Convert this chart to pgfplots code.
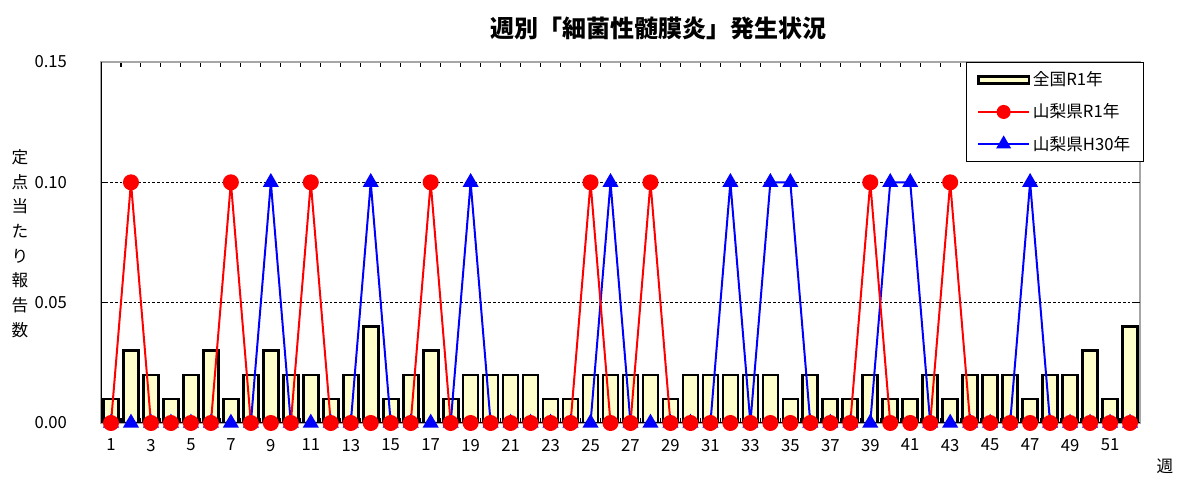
\documentclass[border=0pt]{standalone}
\usepackage{fontspec}
\setmainfont{Noto Sans CJK JP}
\usepackage{pgfplots}
\usepackage{pgfplotstable}
\pgfplotsset{compat=1.18}

\definecolor{barfill}{RGB}{255,255,204}

% week, national R1, Yamanashi R1, Yamanashi H30
\pgfplotstableread{
w  zen  r1   h30
1  0.01 0    0
2  0.03 0.1  0
3  0.02 0    0
4  0.01 0    0
5  0.02 0    0
6  0.03 0    0
7  0.01 0.1  0
8  0.02 0    0
9  0.03 0    0.1
10 0.02 0    0
11 0.02 0.1  0
12 0.01 0    0
13 0.02 0    0
14 0.04 0    0.1
15 0.01 0    0
16 0.02 0    0
17 0.03 0.1  0
18 0.01 0    0
19 0.02 0    0.1
20 0.02 0    0
21 0.02 0    0
22 0.02 0    0
23 0.01 0    0
24 0.01 0    0
25 0.02 0.1  0
26 0.02 0    0.1
27 0.02 0    0
28 0.02 0.1  0
29 0.01 0    0
30 0.02 0    0
31 0.02 0    0
32 0.02 0    0.1
33 0.02 0    0
34 0.02 0    0.1
35 0.01 0    0.1
36 0.02 0    0
37 0.01 0    0
38 0.01 0    0
39 0.02 0.1  0
40 0.01 0    0.1
41 0.01 0    0.1
42 0.02 0    0
43 0.01 0.1  0
44 0.02 0    0
45 0.02 0    0
46 0.02 0    0
47 0.01 0    0.1
48 0.02 0    0
49 0.02 0    0
50 0.03 0    0
51 0.01 0    0
52 0.04 0    0
}\data

\begin{document}
\begin{tikzpicture}
\path[use as bounding box] (0,0) rectangle (885pt,357.75pt);
\begin{axis}[
    at={(75.75pt,40.5pt)}, anchor=south west,
    scale only axis,
    width=779.25pt, height=270.75pt,
    xmin=0.5, xmax=52.5,
    ymin=0, ymax=0.15,
    xtick={1,3,...,51},
    minor xtick={0.5,1.5,...,52.5},
    major x tick style={draw=none},
    minor tick length=4pt,
    ytick={0,0.05,0.1,0.15},
    major tick length=4.5pt,
    extra y ticks={0.05,0.1},
    extra y tick labels={},
    extra y tick style={grid=major, major tick length=0pt},
    grid style={black, thin, dash pattern=on 2pt off 1.5pt},
    axis line style={gray!70, line width=1pt},
    tick style={black, line width=0.8pt},
    /pgf/number format/assume math mode=true,
    yticklabel style={/pgf/number format/fixed, /pgf/number format/fixed zerofill,
        /pgf/number format/precision=2, xshift=-22pt},
    ticklabel style={font=\fontsize{12.5}{14}\selectfont},
    xticklabel style={yshift=-8.5pt},
    legend style={at={(1.004,1)}, anchor=north east, draw=black, line width=0.8pt,
        font=\fontsize{12.5}{14}\selectfont, row sep=8pt,
        inner xsep=8pt, inner ysep=5pt,
        cells={anchor=west}},
    legend image code/.code={\draw[mark repeat=2, mark phase=2, #1]
        plot coordinates {(0pt,0pt) (19pt,0pt) (38pt,0pt)};},
]
\addplot[ybar, bar width=11.25pt, fill=barfill, draw=black, line width=2pt,
    legend image code/.code={\draw[black, line width=2pt, fill=barfill]
        (0pt,-2.5pt) rectangle (38pt,2.5pt);}]
    table[x=w, y=zen] {\data};
\addlegendentry{全国R1年}
\addlegendimage{red, line width=1.5pt, mark=*, mark size=4.5pt}
\addlegendentry{山梨県R1年}
\addlegendimage{blue, line width=1.5pt, mark=triangle*, mark size=5pt}
\addlegendentry{山梨県H30年}
\addplot[blue, line width=1.5pt, mark=triangle*, mark size=5.5pt, forget plot]
    table[x=w, y=h30] {\data};
\addplot[red, line width=1.5pt, mark=*, mark size=5.25pt, forget plot]
    table[x=w, y=r1] {\data};
\draw[black, line width=1.2pt] (rel axis cs:0,1) -- (rel axis cs:0,0) -- (rel axis cs:1,0);
\end{axis}
\node[font=\fontsize{18}{20}\selectfont\bfseries] at (493.5pt,336.75pt)
    {週別「細菌性髄膜炎」発生状況};
\node[align=center, font=\fontsize{12.5}{18.5}\selectfont] at (15pt,175pt)
    {定\\点\\当\\た\\り\\報\\告\\数};
\node[font=\fontsize{12.5}{14}\selectfont] at (873.75pt,8.25pt) {週};
\end{tikzpicture}
\end{document}
